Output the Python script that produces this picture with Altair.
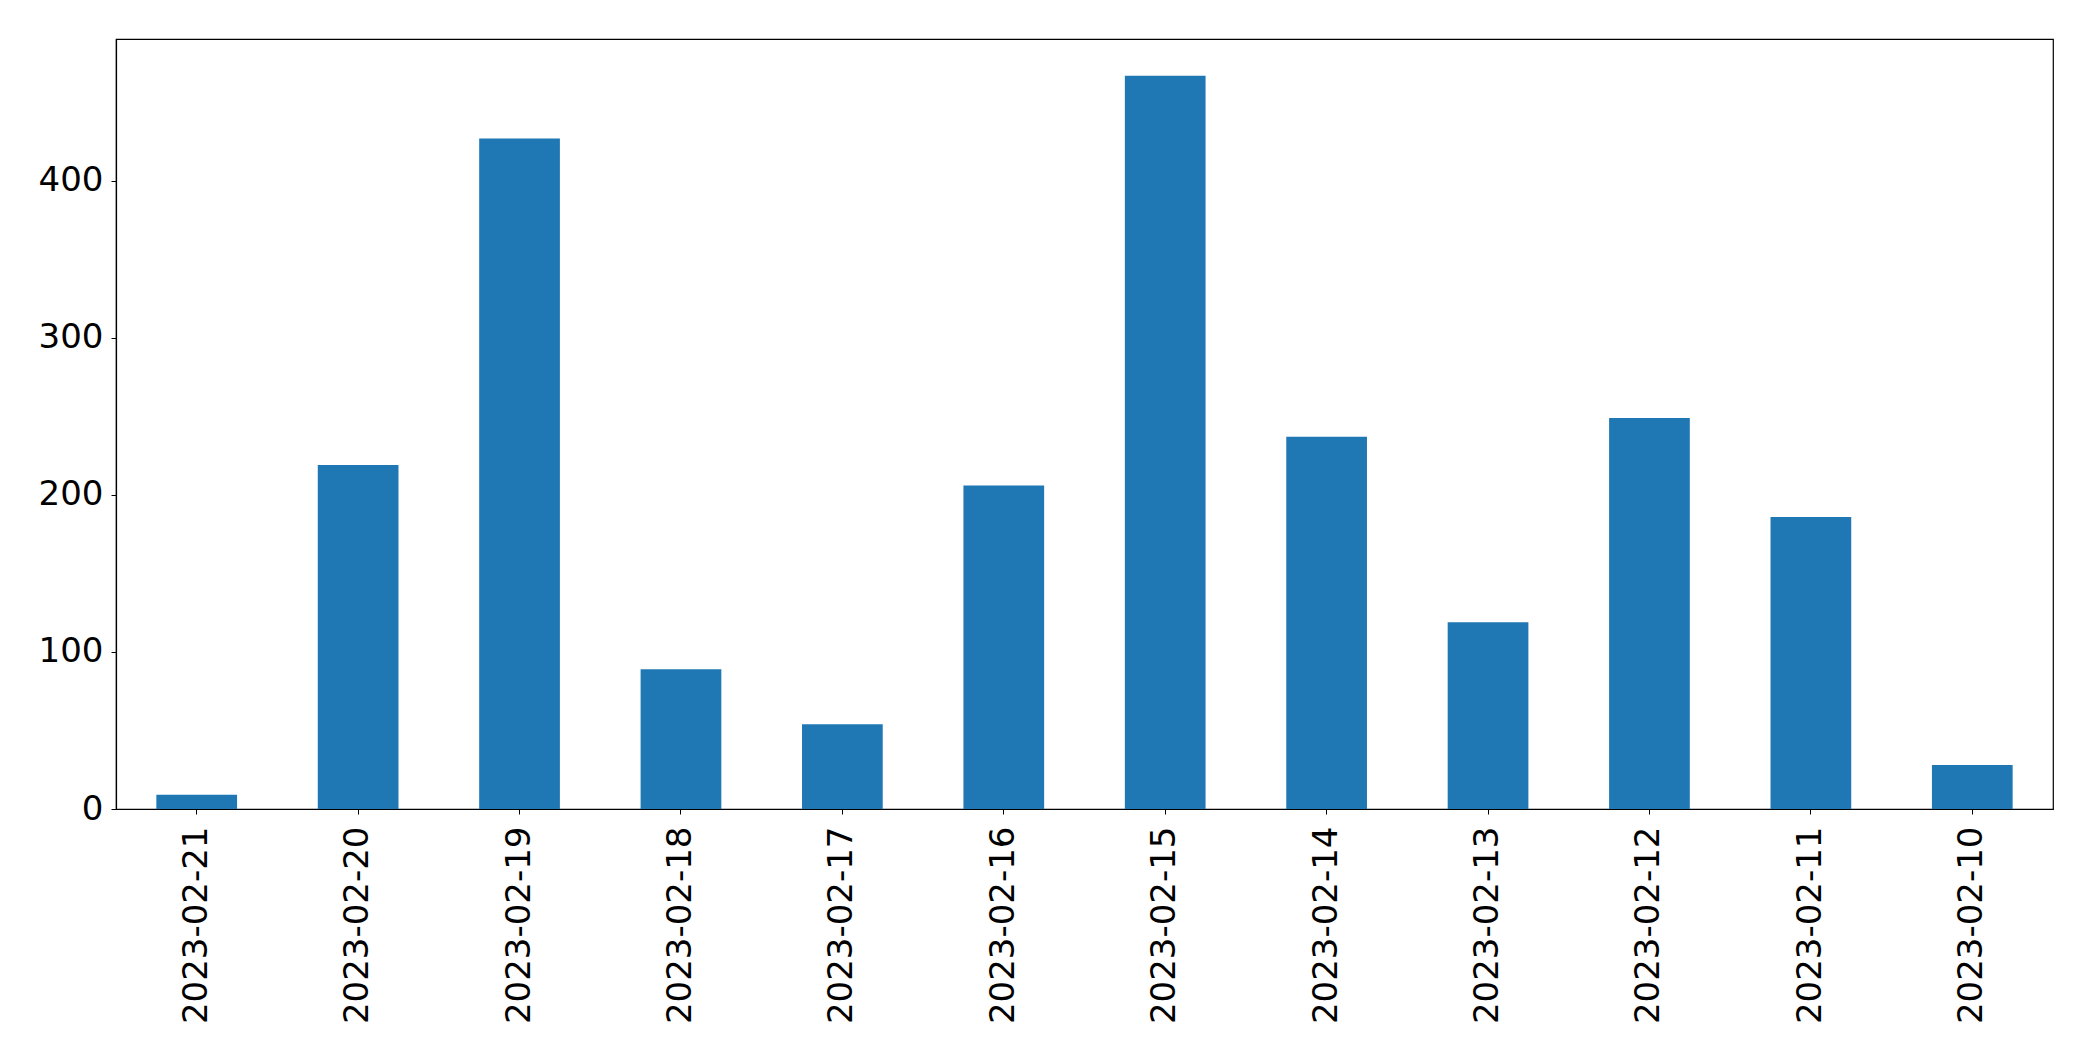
import altair as alt
import pandas as pd

dates = ["2023-02-21", "2023-02-20", "2023-02-19", "2023-02-18", "2023-02-17", "2023-02-16",
         "2023-02-15", "2023-02-14", "2023-02-13", "2023-02-12", "2023-02-11", "2023-02-10"]
counts = [9, 219, 427, 89, 54, 206, 467, 237, 119, 249, 186, 28]
y_ticks = [0, 100, 200, 300, 400]

df = pd.DataFrame({"date": dates, "count": counts})

chart = alt.Chart(df).mark_bar(color="#1f77b4").encode(
    x=alt.X("date:N", sort=dates, title=None,
            scale=alt.Scale(paddingInner=0.5, paddingOuter=0.25),
            axis=alt.Axis(labelAngle=270, labelFontSize=34, labelFont="DejaVu Sans",
                          labelColor="black", tickColor="black", tickSize=5,
                          labelPadding=12, labelLimit=0, domainColor="black", domainWidth=1.2,
                          ticks=True, grid=False)),
    y=alt.Y("count:Q", title=None,
            scale=alt.Scale(domain=[0, 490.35], nice=False, zero=True),
            axis=alt.Axis(values=y_ticks, labelFontSize=34, labelFont="DejaVu Sans",
                          labelColor="black", tickColor="black", tickSize=5,
                          labelPadding=8, domainColor="black", domainWidth=1.2,
                          grid=False, labelFlush=False)),
).properties(
    width=1937, height=770,
    autosize=alt.AutoSizeParams(type="none"),
    padding={"left": 108, "top": 31, "right": 30, "bottom": 240},
).configure(
    background="white",
    view=alt.ViewConfig(stroke="black", strokeWidth=1.2),
)

chart.save("out.html", embed_options={"renderer": "svg", "actions": False})
